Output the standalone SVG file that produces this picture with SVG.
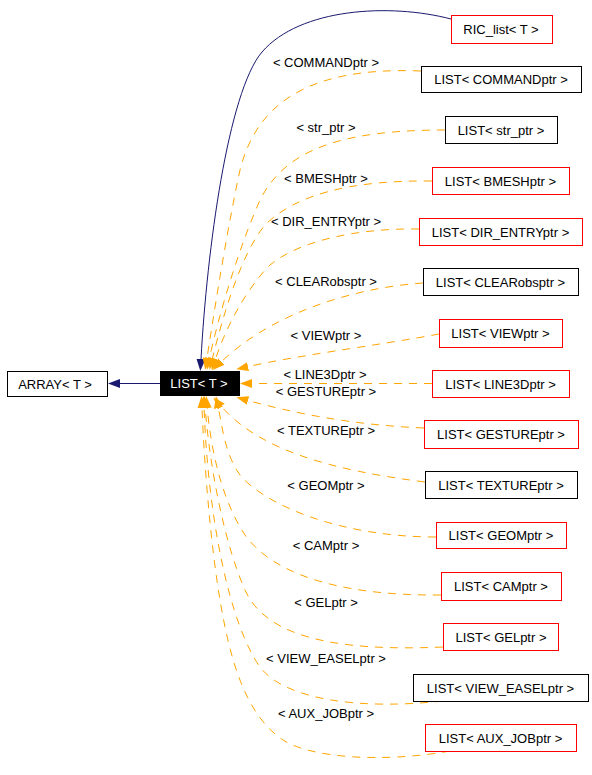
<svg xmlns="http://www.w3.org/2000/svg" width="592" height="775" viewBox="0 0 592 775">
<defs>
<style>
text{font-family:"Liberation Sans",Arial,sans-serif;font-size:13px;fill:#000}
.n rect{fill:#fff;stroke-width:1}
.red rect{stroke:#ff0000}
.blk rect{stroke:#000}
.c{text-anchor:middle}
.e{fill:none;stroke:#ffa500;stroke-width:1;stroke-dasharray:8,7}
.nv{fill:none;stroke:#191970;stroke-width:1}
</style>
<marker id="ao" viewBox="0 0 12 9" refX="0" refY="4.5" markerWidth="12" markerHeight="9" markerUnits="userSpaceOnUse" orient="auto"><polygon points="0,0 12,4.5 0,9" fill="#ffa500"/></marker>
<marker id="an" viewBox="0 0 12 9" refX="0" refY="4.5" markerWidth="12" markerHeight="9" markerUnits="userSpaceOnUse" orient="auto"><polygon points="0,0 12,4.5 0,9" fill="#191970"/></marker>
</defs>
<rect width="592" height="775" fill="#fff"/>
<g id="connectors">
<path class="nv" d="M160,383.5 L120,383.5" marker-end="url(#an)"/>
<path class="nv" d="M451,19 C390,3 300,8 262,52 C228,92 207,250 201,359" marker-end="url(#an)"/>
<path class="e" d="M421,71 C300,66 255,110 240,170 C225,240 213,320 207,358" marker-end="url(#ao)"/>
<path class="e" d="M445,130 C340,130 285,150 260,200 C240,245 220,310 209.5,358" marker-end="url(#ao)"/>
<path class="e" d="M432,181 C350,180 295,195 265,225 C240,255 222,320 212.5,358" marker-end="url(#ao)"/>
<path class="e" d="M419,229 C360,228 300,240 270,265 C245,290 225,330 215.5,359" marker-end="url(#ao)"/>
<path class="e" d="M423,283 C350,288 270,315 221.5,361.6" marker-end="url(#ao)"/>
<path class="e" d="M439,334 C380,345 300,355 248,366.6" marker-end="url(#ao)"/>
<path class="e" d="M432,383.5 L252,383.5" marker-end="url(#ao)"/>
<path class="e" d="M424,428 C350,425 290,412 248,400.5" marker-end="url(#ao)"/>
<path class="e" d="M425,482 C330,470 260,450 221.3,406.5" marker-end="url(#ao)"/>
<path class="e" d="M436,537 C340,537 265,505 240,475 C225,455 222,425 218.4,408" marker-end="url(#ao)"/>
<path class="e" d="M441,595 C330,596 270,570 245,535 C225,505 212,460 207.2,408" marker-end="url(#ao)"/>
<path class="e" d="M443,647 C330,652 265,635 245,590 C225,545 210,470 205.2,408" marker-end="url(#ao)"/>
<path class="e" d="M443,701 C360,710 285,700 260,667 C230,625 208,520 204.1,408" marker-end="url(#ao)"/>
<path class="e" d="M450,751 C390,762 310,760 280,738 C245,712 230,660 220,600 C210,540 204,460 202,408" marker-end="url(#ao)"/>
<text class="c" x="326" y="67">&lt; COMMANDptr &gt;</text>
<text class="c" x="326" y="132">&lt; str_ptr &gt;</text>
<text class="c" x="326" y="183">&lt; BMESHptr &gt;</text>
<text class="c" x="326" y="226">&lt; DIR_ENTRYptr &gt;</text>
<text class="c" x="326" y="286">&lt; CLEARobsptr &gt;</text>
<text class="c" x="326" y="340">&lt; VIEWptr &gt;</text>
<text class="c" x="325" y="379">&lt; LINE3Dptr &gt;</text>
<text class="c" x="326" y="396">&lt; GESTUREptr &gt;</text>
<text class="c" x="326" y="435">&lt; TEXTUREptr &gt;</text>
<text class="c" x="326" y="490">&lt; GEOMptr &gt;</text>
<text class="c" x="326" y="550">&lt; CAMptr &gt;</text>
<text class="c" x="326" y="607">&lt; GELptr &gt;</text>
<text class="c" x="326" y="663">&lt; VIEW_EASELptr &gt;</text>
<text class="c" x="326" y="718">&lt; AUX_JOBptr &gt;</text>
</g>
<g id="array" class="n blk"><rect x="7.5" y="371.5" width="100" height="25"/><text class="c" x="55" y="388.5">ARRAY&lt; T &gt;</text></g>
<g id="list"><rect x="160" y="371" width="80" height="25" fill="#000"/><text class="c" x="199" y="388" style="fill:#fff">LIST&lt; T &gt;</text></g>
<g id="ric" class="n red"><rect x="451.5" y="15.5" width="101" height="28"/><text class="c" x="501" y="34">RIC_list&lt; T &gt;</text></g>
<g id="command" class="n blk"><rect x="421.5" y="66.5" width="160" height="26"/><text class="c" x="501" y="84">LIST&lt; COMMANDptr &gt;</text></g>
<g id="strptr" class="n blk"><rect x="445.5" y="116.5" width="112" height="27"/><text class="c" x="501" y="134.5">LIST&lt; str_ptr &gt;</text></g>
<g id="bmesh" class="n red"><rect x="432.5" y="167.5" width="137" height="27"/><text class="c" x="500.5" y="185.5">LIST&lt; BMESHptr &gt;</text></g>
<g id="direntry" class="n red"><rect x="419.5" y="218.5" width="163" height="27"/><text class="c" x="500.5" y="236.5">LIST&lt; DIR_ENTRYptr &gt;</text></g>
<g id="clearobs" class="n blk"><rect x="423.5" y="268.5" width="155" height="27"/><text class="c" x="500.5" y="286.5">LIST&lt; CLEARobsptr &gt;</text></g>
<g id="view" class="n red"><rect x="439.5" y="319.5" width="123" height="28"/><text class="c" x="500.5" y="338">LIST&lt; VIEWptr &gt;</text></g>
<g id="line3d" class="n red"><rect x="432.5" y="370.5" width="137" height="27"/><text class="c" x="500.5" y="388.5">LIST&lt; LINE3Dptr &gt;</text></g>
<g id="gesture" class="n red"><rect x="424.5" y="420.5" width="154" height="28"/><text class="c" x="501" y="439">LIST&lt; GESTUREptr &gt;</text></g>
<g id="texture" class="n blk"><rect x="425.5" y="471.5" width="152" height="27"/><text class="c" x="501" y="489.5">LIST&lt; TEXTUREptr &gt;</text></g>
<g id="geom" class="n red"><rect x="436.5" y="522.5" width="130" height="26"/><text class="c" x="501" y="540">LIST&lt; GEOMptr &gt;</text></g>
<g id="cam" class="n red"><rect x="441.5" y="572.5" width="120" height="28"/><text class="c" x="501" y="591">LIST&lt; CAMptr &gt;</text></g>
<g id="gel" class="n red"><rect x="443.5" y="623.5" width="115" height="27"/><text class="c" x="501" y="641.5">LIST&lt; GELptr &gt;</text></g>
<g id="vieweasel" class="n blk"><rect x="413.5" y="674.5" width="175" height="27"/><text class="c" x="500.5" y="692.5">LIST&lt; VIEW_EASELptr &gt;</text></g>
<g id="auxjob" class="n red"><rect x="425.5" y="724.5" width="151" height="27"/><text class="c" x="500.5" y="742.5">LIST&lt; AUX_JOBptr &gt;</text></g>
</svg>
